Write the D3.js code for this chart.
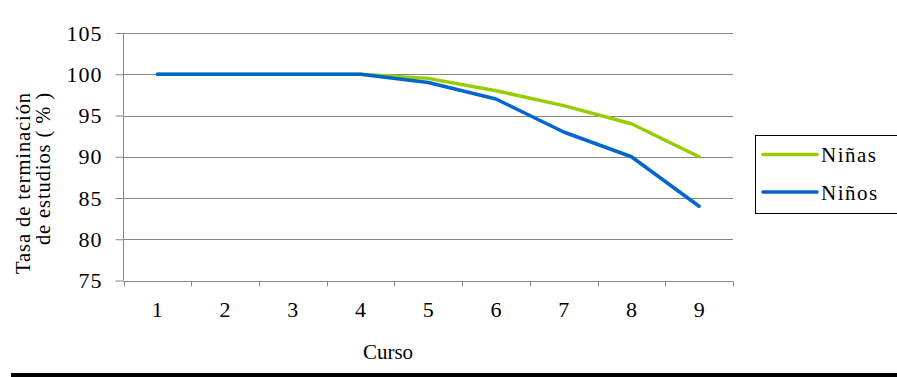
<!DOCTYPE html>
<html>
<head>
<meta charset="utf-8">
<script src="https://cdn.jsdelivr.net/npm/d3@7"></script>
<style>
  html, body { margin: 0; padding: 0; background: #fff; }
  svg { display: block; }
</style>
</head>
<body>
<svg id="chart" width="897" height="377"></svg>
<script>
// Course completion rate by grade, girls vs boys
const categories = ["1", "2", "3", "4", "5", "6", "7", "8", "9"];
const ninas = [100, 100, 100, 100, 99.5, 98, 96.2, 94, 90];
const ninos = [100, 100, 100, 100, 99, 97, 93, 90, 84];
const yTicks = [75, 80, 85, 90, 95, 100, 105];
const seriesNames = ["Niñas", "Niños"];
const seriesColors = ["#99cc00", "#0066cc"];

const serif = "'Liberation Serif', 'Times New Roman', serif";
const svg = d3.select("#chart");
const gridColor = "#868686";

const x = d3.scaleBand().domain(categories).range([123.5, 733]).padding(0);
const y = d3.scaleLinear().domain([75, 105]).range([280.5, 33]);

// horizontal gridlines
svg.append("g")
  .selectAll("line")
  .data(yTicks.filter(v => v > 75))
  .join("line")
  .attr("x1", 123.5).attr("x2", 733)
  .attr("y1", d => Math.round(y(d)) + 0.5).attr("y2", d => Math.round(y(d)) + 0.5)
  .attr("stroke", gridColor).attr("stroke-width", 1);

// y axis
const yAxis = svg.append("g")
  .attr("transform", "translate(123.5,0)")
  .call(d3.axisLeft(y).tickValues(yTicks).tickSize(8).tickPadding(13).tickFormat(d3.format("d")));
yAxis.select(".domain").attr("stroke", gridColor).attr("d", `M0,${y(105)}V${y(75)}`);
yAxis.selectAll(".tick line").attr("stroke", gridColor);
yAxis.selectAll(".tick text")
  .style("font-family", serif)
  .style("font-size", "22px")
  .style("letter-spacing", "1px")
  .attr("fill", "#000");

// x axis line and boundary ticks
const xBase = Math.round(y(75)) + 0.5;
svg.append("line")
  .attr("x1", 123.5).attr("x2", 733)
  .attr("y1", xBase).attr("y2", xBase)
  .attr("stroke", gridColor);
const bounds = categories.map(c => x(c)).concat([x(categories[categories.length - 1]) + x.bandwidth()]);
svg.append("g")
  .selectAll("line")
  .data(bounds)
  .join("line")
  .attr("x1", d => Math.round(d) + 0.5).attr("x2", d => Math.round(d) + 0.5)
  .attr("y1", xBase).attr("y2", xBase + 5)
  .attr("stroke", gridColor);

// x labels
const xAxis = svg.append("g")
  .attr("transform", `translate(0,${xBase})`)
  .call(d3.axisBottom(x).tickSize(0).tickPadding(28));
xAxis.select(".domain").remove();
xAxis.selectAll(".tick text")
  .style("font-family", serif)
  .style("font-size", "22px")
  .attr("fill", "#000")
  .attr("dy", "0.32em");

// axis titles
svg.append("text")
  .attr("x", 388).attr("y", 359)
  .attr("text-anchor", "middle")
  .style("font-family", serif)
  .style("font-size", "21px")
  .text("Curso");

const yTitle = svg.append("text")
  .attr("transform", "translate(30,92) rotate(-90)")
  .attr("text-anchor", "end")
  .style("font-family", serif)
  .style("font-size", "20.5px")
  .style("letter-spacing", "0.9px");
yTitle.append("tspan").attr("x", 0).attr("y", 0).text("Tasa de terminación");
yTitle.append("tspan").attr("x", 0).attr("y", 20).text("de estudios ( % )");

// series lines
const line = d3.line()
  .x((d, i) => x(categories[i]) + x.bandwidth() / 2)
  .y(d => y(d));
[ninas, ninos].forEach((vals, k) => {
  svg.append("path")
    .datum(vals)
    .attr("d", line)
    .attr("fill", "none")
    .attr("stroke", seriesColors[k])
    .attr("stroke-width", 3.5)
    .attr("stroke-linejoin", "round")
    .attr("stroke-linecap", "round");
});

// legend
const legend = svg.append("g");
legend.append("rect")
  .attr("x", 755.5).attr("y", 135.5)
  .attr("width", 160).attr("height", 78)
  .attr("fill", "#fff").attr("stroke", "#000").attr("stroke-width", 1);
seriesNames.forEach((name, k) => {
  const ly = 154.5 + k * 37.5;
  legend.append("line")
    .attr("x1", 763).attr("x2", 817)
    .attr("y1", ly).attr("y2", ly)
    .attr("stroke", seriesColors[k]).attr("stroke-width", 3.5)
    .attr("stroke-linecap", "round");
  legend.append("text")
    .attr("x", 821).attr("y", ly + 7.5)
    .style("font-family", serif)
    .style("font-size", "21px")
    .style("letter-spacing", "1.5px")
    .text(name);
});

// bottom rule
svg.append("rect")
  .attr("x", 11).attr("y", 373)
  .attr("width", 886).attr("height", 4)
  .attr("fill", "#000");
</script>
</body>
</html>
